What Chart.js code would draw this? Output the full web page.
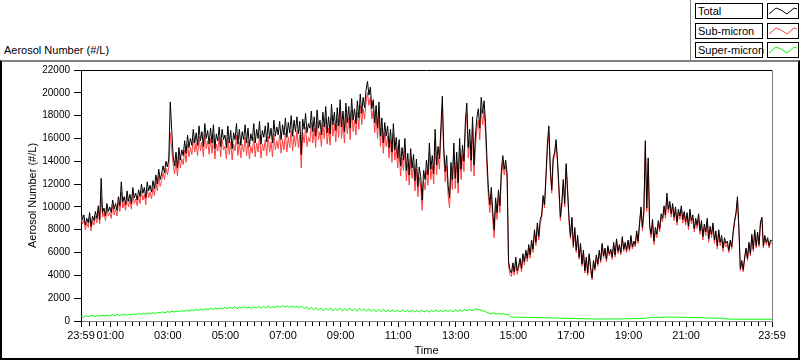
<!DOCTYPE html>
<html>
<head>
<meta charset="utf-8">
<script src="https://cdn.jsdelivr.net/npm/chart.js@4.4.1/dist/chart.umd.min.js"></script>
<style>
  html, body { margin: 0; padding: 0; background: #fff; }
  body { width: 800px; height: 361px; position: relative; overflow: hidden;
         font-family: "Liberation Sans", Arial, sans-serif; font-size: 11px; color: #000; }
  #panel { position: absolute; left: 0; top: 60px; width: 800px; height: 300px; box-sizing: border-box;
           border-top: 2px solid #808080; border-left: 2px solid #000; border-right: 2px solid #000; border-bottom: 2px solid #000; }
  #topLabel { position: absolute; left: 4px; top: 44px; white-space: nowrap; }
  #legendEdge { position: absolute; left: 690px; top: 0; width: 1px; height: 61px; background: #808080; }
  .lg { position: absolute; height: 16px; box-sizing: border-box; border: 1px solid #000; background: #fff; }
  .lgText { left: 695px; width: 68px; line-height: 14px; padding-left: 2px; white-space: nowrap; }
  .lgSample { left: 767px; width: 32px; }
  .lgSample svg { display: block; }
  #chart { position: absolute; left: 0; top: 0; }
</style>
</head>
<body>
<div id="panel"></div>
<div id="topLabel">Aerosol Number (#/L)</div>
<div id="legendEdge"></div>
<div id="legend"></div>
<canvas id="chart" width="800" height="361"></canvas>
<script>
// Total and Sub-micron: one sample every 3 min from 23:59 (prev. day)
// Super-micron: one sample every 5 min
const stepFine = 3;
const stepSuper = 5;

const total = [
  9700, 8900, 9300, 8400, 9000, 8600, 9500, 8300, 9200, 8800,
  9600, 9000, 10100, 8900, 12500, 9500, 9900, 9200, 10300, 9600,
  10000, 9500, 10600, 9800, 10300, 9700, 10900, 10100, 12200, 10400,
  10900, 10200, 11400, 10500, 11100, 10300, 11700, 10800, 11200, 10600,
  11500, 10900, 12000, 11200, 11700, 10800, 12200, 11400, 11900, 11300,
  12300, 11600, 12800, 12000, 13300, 12400, 12900, 13600, 13000, 14000,
  13500, 14200, 19200, 16800, 14500, 13600, 14800, 13400, 15200, 14100,
  15000, 14500, 15800, 14700, 16300, 15200, 16000, 15400, 16800, 15600,
  16500, 15400, 17100, 15800, 16600, 15300, 17300, 16000, 16700, 15500,
  16900, 15600, 17200, 15100, 16400, 15800, 17000, 15300, 16800, 15900,
  16300, 15200, 17100, 15600, 16700, 15100, 16500, 15900, 17300, 15500,
  16800, 15400, 16600, 15900, 17200, 15600, 16900, 15300, 16400, 15800,
  17300, 15600, 16800, 16000, 17500, 15500, 16700, 16100, 17100, 15700,
  17400, 16000, 16900, 15600, 17600, 16200, 17000, 16300, 17500, 15900,
  17200, 16300, 17800, 16100, 17400, 16500, 18000, 16200, 17600, 16600,
  17900, 16400, 17500, 14600, 17700, 16800, 18200, 16500, 17300, 16900,
  18400, 16600, 17900, 16200, 18500, 16900, 17600, 16300, 18300, 17000,
  18800, 16500, 17900, 16400, 19000, 17200, 18300, 16700, 18700, 17100,
  19400, 17000, 18400, 16600, 19100, 17400, 18800, 16900, 19500, 17600,
  18600, 17300, 19300, 17800, 19900, 18200, 19600, 18700, 20200, 21000,
  19800, 20500, 18600, 19400, 17400, 18900, 16900, 19200, 16200, 17800,
  15600, 17400, 16200, 17100, 15200, 16800, 14800, 17300, 15000, 16100,
  14300, 15900, 13600, 15200, 14100, 16000, 13200, 14700, 12800, 15100,
  13400, 14600, 12300, 14200, 11800, 13500, 12600, 10600, 13200, 12400,
  14100, 12800, 15600, 13300, 14500, 12900, 16800, 13700, 15300, 14200,
  17000, 19700, 15200, 13100, 14500, 11900, 10800, 13900, 12400, 15600,
  12500, 14800, 12100, 16000, 13300, 15400, 14000, 17500, 19100, 15200,
  16800, 14100, 17900, 13700, 16300, 17800, 18600, 16900, 19600, 18200,
  19300, 17400, 14200, 11600, 10200, 11700, 9600, 8000, 10800, 9500,
  11500, 10100, 13200, 14500, 13300, 14100, 12900, 5200, 4500, 4200,
  5100, 4300, 5600, 4400, 4900, 5500, 4600, 5900, 5200, 6200,
  5500, 6700, 5800, 7100, 6300, 8000, 6900, 8600, 7400, 8900,
  9300, 11000, 10200, 12800, 15600, 17100, 13400, 11500, 14300, 14800,
  15900, 14100, 11700, 9100, 10400, 12400, 10300, 13800, 11500, 9000,
  7400, 9100, 6600, 8200, 6200, 7500, 5600, 6800, 5000, 6200,
  4400, 5600, 4200, 5900, 4700, 3800, 5300, 4600, 5800, 5000,
  6200, 5300, 6800, 5700, 6400, 5400, 6600, 5900, 6300, 5600,
  6900, 5800, 7200, 6100, 6700, 6000, 7400, 6300, 6900, 6200,
  7100, 6300, 7500, 6500, 7000, 6700, 7900, 7000, 8600, 10000,
  8200, 9700, 15800, 9900, 14300, 8400, 7600, 8900, 7000, 8200,
  7600, 8800, 8100, 9400, 9000, 10100, 9300, 11200, 9800, 10500,
  9400, 10300, 9100, 10000, 8700, 9800, 9200, 10100, 8900, 9600,
  8700, 9500, 8300, 9800, 8800, 9300, 8100, 9000, 8400, 9400,
  7900, 8800, 7400, 8500, 7800, 9000, 7200, 8300, 7600, 8600,
  7100, 7900, 6600, 8000, 6900, 7500, 6400, 7300, 6800, 7000,
  6200, 7100, 6500, 7800, 8800, 9500, 10900, 8200, 4600, 5300,
  4500, 5600, 6400, 5500, 6900, 5900, 7600, 6300, 8000, 6600,
  7800, 6700, 8700, 9100, 6600, 7500, 6900, 7300, 6600, 7100,
  7000
];

const subMicron = [
  9300, 8500, 8900, 8000, 8600, 8200, 9100, 7900, 8800, 8400,
  9200, 8600, 9700, 8500, 10800, 9100, 9500, 8800, 9900, 9200,
  9500, 9000, 10100, 9300, 9800, 9200, 10400, 9600, 11300, 9900,
  10400, 9700, 10900, 10000, 10600, 9800, 11200, 10300, 10700, 10100,
  10900, 10300, 11400, 10600, 11100, 10200, 11600, 10800, 11300, 10700,
  11700, 11000, 12200, 11400, 12700, 11800, 12300, 13000, 12400, 13400,
  12800, 13500, 16500, 15000, 13800, 12900, 14100, 12700, 14500, 13400,
  14200, 13700, 15000, 13900, 15500, 14400, 15200, 14600, 16000, 14800,
  15600, 14500, 16200, 14900, 15700, 14400, 16400, 15100, 15800, 14600,
  16000, 14700, 16300, 14200, 15500, 14900, 16100, 14400, 15900, 15000,
  15300, 14200, 16100, 14600, 15700, 14100, 15500, 14900, 16300, 14500,
  15700, 14300, 15500, 14800, 16100, 14500, 15800, 14200, 15300, 14700,
  16100, 14400, 15600, 14800, 16300, 14300, 15500, 14900, 15900, 14500,
  16200, 14800, 15700, 14400, 16400, 15000, 15800, 15100, 16300, 14700,
  15900, 15000, 16500, 14800, 16100, 15200, 16700, 14900, 16300, 15300,
  16700, 15200, 16300, 13400, 16500, 15600, 17000, 15300, 16100, 15700,
  17400, 15600, 16900, 15200, 17500, 15900, 16600, 15300, 17300, 16000,
  17800, 15500, 16900, 15400, 18000, 16200, 17300, 15700, 17700, 16100,
  18400, 16000, 17400, 15600, 18100, 16400, 17800, 15900, 18500, 16600,
  17600, 16300, 18300, 16800, 18900, 17200, 18600, 17700, 19200, 20000,
  18900, 19600, 17700, 18500, 16500, 18000, 16000, 18300, 15300, 16900,
  14700, 16500, 15300, 16200, 14300, 15900, 13900, 16400, 14100, 15200,
  13400, 15000, 12700, 14300, 13200, 15100, 12300, 13800, 11900, 14200,
  12500, 13700, 11400, 13300, 10900, 12600, 11700, 9700, 12300, 11500,
  13200, 11900, 14700, 12400, 13600, 12000, 15900, 12800, 14400, 13300,
  16100, 18800, 14300, 12200, 13600, 11000, 9900, 13000, 11500, 14700,
  11600, 13900, 11200, 15100, 12400, 14500, 13100, 16600, 18200, 14300,
  15800, 13100, 16900, 12700, 15300, 16800, 17600, 15900, 18600, 17200,
  18400, 16500, 13400, 10900, 9500, 11000, 8900, 7300, 10100, 8900,
  10900, 9500, 12600, 13900, 12800, 13600, 12400, 4800, 4100, 3900,
  4800, 4000, 5300, 4100, 4600, 5200, 4300, 5600, 4900, 5900,
  5200, 6400, 5500, 6800, 6000, 7700, 6600, 8300, 7100, 8600,
  9000, 10700, 9900, 12500, 15000, 16500, 13100, 11200, 14000, 14500,
  15500, 13800, 11400, 8800, 10100, 12100, 10000, 13500, 11200, 8700,
  7200, 8900, 6400, 8000, 6000, 7300, 5400, 6600, 4800, 6000,
  4200, 5400, 4000, 5700, 4500, 3600, 5100, 4400, 5600, 4800,
  6000, 5100, 6600, 5500, 6200, 5200, 6400, 5700, 6100, 5400,
  6700, 5600, 7000, 5900, 6500, 5800, 7200, 6100, 6700, 6000,
  6900, 6100, 7300, 6300, 6800, 6500, 7700, 6800, 8400, 9800,
  7900, 9400, 15300, 9600, 13900, 8100, 7300, 8600, 6700, 7900,
  7300, 8500, 7800, 9100, 8700, 9800, 9000, 10800, 9500, 10200,
  9100, 10000, 8800, 9700, 8400, 9500, 8900, 9800, 8600, 9300,
  8400, 9200, 8000, 9500, 8500, 9000, 7800, 8700, 8100, 9100,
  7600, 8500, 7100, 8200, 7500, 8700, 6900, 8000, 7300, 8300,
  6800, 7600, 6300, 7700, 6600, 7200, 6100, 7000, 6500, 6700,
  6000, 6900, 6300, 7600, 8600, 9300, 10600, 8000, 4400, 5100,
  4300, 5400, 6200, 5300, 6700, 5700, 7400, 6100, 7800, 6400,
  7600, 6500, 8500, 8900, 6400, 7300, 6700, 7100, 6400, 6900,
  6800
];

const superMicron = [
  420, 330, 470, 380, 450, 500, 380, 480, 420, 520,
  430, 530, 460, 560, 450, 580, 480, 550, 600, 500,
  580, 520, 620, 560, 660, 590, 690, 600, 700, 640,
  720, 650, 760, 700, 800, 720, 830, 760, 860, 790,
  880, 800, 920, 840, 950, 870, 990, 900, 1020, 930,
  1050, 960, 1080, 990, 1110, 1020, 1140, 1050, 1170, 1080,
  1190, 1080, 1220, 1110, 1240, 1090, 1230, 1120, 1260, 1130,
  1210, 1100, 1250, 1130, 1270, 1120, 1280, 1150, 1300, 1170,
  1250, 1190, 1320, 1200, 1340, 1230, 1310, 1180, 1330, 1210,
  1280, 1170, 1300, 1080, 1250, 1000, 1220, 980, 1170, 960,
  1140, 900, 1120, 950, 1150, 880, 1100, 920, 1130, 860,
  1090, 900, 1140, 880, 1080, 850, 1110, 920, 1070, 870,
  1050, 860, 1010, 820, 990, 840, 1030, 800, 970, 830,
  980, 800, 950, 790, 970, 810, 940, 780, 960, 800,
  930, 780, 950, 800, 920, 770, 940, 810, 960, 820,
  930, 800, 970, 830, 950, 810, 980, 840, 990, 860,
  1010, 880, 1030, 900, 1020, 1050, 990, 930, 870, 780,
  700, 620, 710, 600, 680, 590, 660, 570, 560, 380,
  340, 310, 350, 320, 300, 340, 310, 330, 290, 320,
  300, 280, 310, 270, 300, 260, 290, 250, 280, 240,
  260, 230, 250, 220, 240, 210, 230, 200, 220, 190,
  200, 180, 190, 170, 190, 160, 180, 170, 190, 180,
  170, 190, 180, 200, 170, 190, 180, 210, 190, 200,
  220, 200, 240, 210, 250, 230, 270, 300, 340, 310,
  330, 300, 320, 350, 330, 360, 340, 320, 350, 330,
  310, 340, 300, 320, 290, 310, 280, 300, 270, 290,
  260, 280, 250, 270, 240, 260, 230, 250, 210, 190,
  170, 160, 180, 150, 170, 140, 160, 150, 140, 160,
  150, 140, 160, 150, 140, 160, 150, 140, 150
];

// x ticks, minutes after 23:59
const majorTicks = [0, 61, 181, 301, 421, 541, 661, 781, 901, 1021, 1141, 1261, 1440];
const tickLabels = ["23:59", "01:00", "03:00", "05:00", "07:00", "09:00", "11:00", "13:00",
  "15:00", "17:00", "19:00", "21:00", "23:59"];
const minorStep = 15;

const seriesNames = ["Total", "Sub-micron", "Super-micron"];
const seriesColors = ["#000000", "#ff4040", "#00ff00"];

const font = "'Liberation Sans', Arial, sans-serif";
const toPoints = (arr, step) => arr.map((v, i) => ({ x: i * step, y: v }));

// legend boxes (LabVIEW style)
const legend = document.getElementById("legend");
const rowTops = [3, 23, 42];
seriesNames.forEach((name, i) => {
  const t = document.createElement("div");
  t.className = "lg lgText";
  t.style.top = rowTops[i] + "px";
  t.textContent = name;
  legend.appendChild(t);
  const s = document.createElement("div");
  s.className = "lg lgSample";
  s.style.top = rowTops[i] + "px";
  s.innerHTML = '<svg width="30" height="14"><polyline points="1,10 8,4 13,6 19,10 26,4 29,5" fill="none" stroke="' +
    seriesColors[i] + '" stroke-width="1"/></svg>';
  legend.appendChild(s);
});

const frame = {
  id: "frame",
  afterDraw(chart) {
    const { ctx, chartArea: { left, right, top, bottom } } = chart;
    const x = chart.scales.x;
    ctx.save();
    ctx.lineWidth = 1;
    ctx.strokeStyle = "#000";
    ctx.beginPath();
    ctx.moveTo(left, top + 0.5);
    ctx.lineTo(right, top + 0.5);
    ctx.stroke();
    ctx.strokeStyle = "#808080";
    ctx.beginPath();
    ctx.moveTo(right + 0.5, top);
    ctx.lineTo(right + 0.5, bottom);
    ctx.stroke();
    // minor ticks
    ctx.strokeStyle = "#000";
    ctx.beginPath();
    for (let m = 1; m < 1440; m += minorStep) {
      if (majorTicks.includes(m)) continue;
      const px = Math.round(x.getPixelForValue(m)) + 0.5;
      ctx.moveTo(px, bottom + 1);
      ctx.lineTo(px, bottom + 5);
    }
    ctx.stroke();
    ctx.restore();
  }
};

new Chart(document.getElementById("chart"), {
  type: "line",
  data: {
    datasets: [
      { label: seriesNames[0], data: toPoints(total, stepFine), borderColor: seriesColors[0], borderWidth: 1, pointRadius: 0 },
      { label: seriesNames[1], data: toPoints(subMicron, stepFine), borderColor: seriesColors[1], borderWidth: 1, pointRadius: 0 },
      { label: seriesNames[2], data: toPoints(superMicron, stepSuper), borderColor: seriesColors[2], borderWidth: 1, pointRadius: 0 }
    ]
  },
  options: {
    responsive: false,
    animation: false,
    devicePixelRatio: 1,
    layout: { padding: { top: 70, right: 28, left: 0, bottom: 0 } },
    plugins: { legend: { display: false }, tooltip: { enabled: false } },
    scales: {
      x: {
        type: "linear",
        min: 0,
        max: 1440,
        afterBuildTicks: s => { s.ticks = majorTicks.map(v => ({ value: v })); },
        afterFit: s => { s.height = 40; },
        ticks: {
          autoSkip: false, maxRotation: 0, minRotation: 0, padding: 2, color: "#000",
          font: { family: font, size: 11 },
          callback: (v, i) => tickLabels[i]
        },
        grid: { drawOnChartArea: false, tickLength: 6, tickColor: "#000" },
        border: { display: true, color: "#808080" },
        title: { display: true, text: "Time", color: "#000", font: { family: font, size: 11 }, padding: { top: 0, bottom: 3 } }
      },
      y: {
        min: 0,
        max: 22000,
        afterFit: s => { s.width = 81; },
        ticks: {
          stepSize: 2000, padding: 4, color: "#000",
          font: { family: font, size: 10 },
          callback: v => String(v)
        },
        grid: { drawOnChartArea: false, tickLength: 7, tickColor: "#000" },
        border: { display: true, color: "#000" },
        title: { display: true, text: "Aerosol Number (#/L)", color: "#000", font: { family: font, size: 11 }, padding: { top: 26, bottom: 0 } }
      }
    }
  },
  plugins: [frame]
});
</script>
</body>
</html>
